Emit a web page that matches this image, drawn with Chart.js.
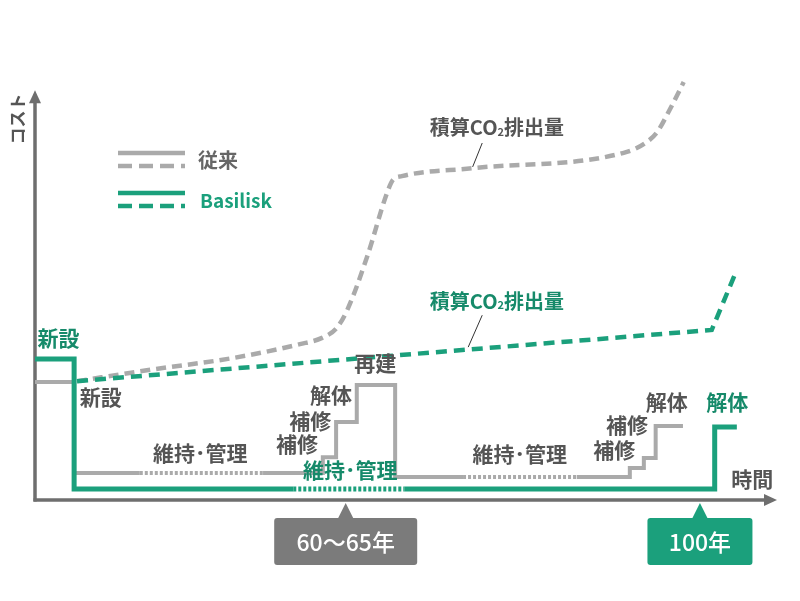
<!DOCTYPE html>
<html><head><meta charset="utf-8">
<script src="https://cdn.jsdelivr.net/npm/chart.js@4"></script>
<style>html,body{margin:0;padding:0;background:#fff}canvas{display:block}</style>
</head><body><canvas id="c" width="800" height="601"></canvas>
<script>
// ---- data (abstract time 0-100, abstract cost 0-100) ----
const seriesNames = ['従来', 'Basilisk'];
const axisLabels = { x: '時間', y: 'コスト' };

// conventional building: cost (solid)
const convCostX = [0, 5.3, 5.3, 14.2, 30.9, 39.0, 39.0, 40.8, 40.8, 43.6, 43.6, 48.8, 48.8, 58.0, 73.4, 80.6, 80.6, 82.5, 82.5, 84.1, 84.1, 87.8];
const convCostY = [28.1, 28.1, 6.4, 6.4, 6.4, 6.4, 10.2, 10.2, 18.6, 18.6, 27.4, 27.4, 5.5, 5.5, 5.5, 5.5, 7.6, 7.6, 10.0, 10.0, 17.6, 17.6];
const convDotted = [[14.2, 30.9], [58.0, 73.4]];
// Basilisk: cost (solid)
const basCostX = [0, 5.3, 5.3, 35.0, 50.1, 92.1, 92.1, 95.1];
const basCostY = [33.6, 33.6, 2.6, 2.6, 2.6, 2.6, 17.4, 17.4];
const basDotted = [[35.0, 50.1]];
// cumulative CO2 (dashed)
const convCO2X = [5.7, 15.6, 26.8, 35.9, 38.9, 40.9, 42.3, 45.0, 47.7, 48.5, 49.7, 59.3, 80.2, 82.7, 84.3, 86.0, 87.9];
const convCO2Y = [28.3, 31.0, 33.8, 37.1, 38.6, 41.0, 45.2, 57.9, 73.1, 76.2, 77.1, 79.0, 82.9, 85.0, 87.6, 92.9, 99.5];
const basCO2X = [5.7, 91.7, 95.1];
const basCO2Y = [28.3, 40.5, 54.8];

// stage labels: text, x, y, series (0 = 従来, 1 = Basilisk)
const stageText = ['新設', '新設', '維持･管理', '補修', '補修', '解体', '再建', '維持･管理', '維持･管理', '補修', '補修', '解体', '解体'];
const stageX    = [3.2, 8.9, 22.4, 35.5, 37.3, 40.1, 46.1, 42.7, 65.7, 78.5, 80.2, 85.6, 93.8];
const stageY    = [38.6, 24.5, 11.2, 13.3, 18.8, 25.0, 32.6, 7.1, 11.0, 11.9, 17.9, 23.3, 23.3];
const stageSer  = [1, 0, 0, 0, 0, 0, 0, 1, 0, 0, 0, 0, 1];

// CO2 labels with leader lines
const co2Label = ['積算CO', '2', '排出量'];
const co2LabelX = [62.6, 62.6];
const co2LabelY = [88.6, 47.4];
const leaderFrom = [[60.6, 85.0], [60.6, 44.0]];
const leaderTo   = [[59.3, 79.3], [58.7, 36.4]];

// milestones on time axis
const milestoneText = ['60〜65年', '100年'];
const milestoneX = [42.1, 90.1];

// ---- styles ----
const GREEN = '#1ba07c', GREEN_TXT = '#168a6a', GRAY = '#aaaaaa', GRAY_TXT = '#555555', AXIS = '#6e6e6e';
const FONT = '"Noto Sans CJK JP", "Noto Sans", sans-serif';
const BOX_W = [143, 105];

const zip = (xs, ys) => xs.map((v, i) => ({ x: v, y: ys[i] }));
const inRanges = (ranges) => (ctx) => {
  const a = ctx.p0.parsed.x, b = ctx.p1.parsed.x;
  return ranges.some(r => a >= r[0] - 1e-6 && b <= r[1] + 1e-6 && b > a) ? [3, 2] : undefined;
};

const deco = {
  id: 'deco',
  beforeDatasetsDraw(chart) {
    const { ctx, scales: { x, y } } = chart;
    const x0 = x.getPixelForValue(0), y0 = y.getPixelForValue(0);
    const xEnd = x.getPixelForValue(100) + 2, yTop = y.getPixelForValue(97.1);
    ctx.save();
    ctx.strokeStyle = AXIS; ctx.fillStyle = AXIS; ctx.lineWidth = 3.5;
    ctx.beginPath(); ctx.moveTo(x0, y0 + 1.5); ctx.lineTo(x0, yTop + 8); ctx.stroke();
    ctx.beginPath(); ctx.moveTo(x0 - 1.5, y0); ctx.lineTo(xEnd - 8, y0); ctx.stroke();
    ctx.beginPath(); ctx.moveTo(x0, yTop - 2); ctx.lineTo(x0 - 6, yTop + 11); ctx.lineTo(x0 + 6, yTop + 11); ctx.closePath(); ctx.fill();
    ctx.beginPath(); ctx.moveTo(xEnd + 2, y0); ctx.lineTo(xEnd - 11, y0 - 6); ctx.lineTo(xEnd - 11, y0 + 6); ctx.closePath(); ctx.fill();
    ctx.restore();
  },
  afterDatasetsDraw(chart) {
    const { ctx, scales: { x, y } } = chart;
    ctx.save();
    ctx.textBaseline = 'middle'; ctx.textAlign = 'center';
    // stage labels
    ctx.font = '700 21px ' + FONT;
    stageText.forEach((t, i) => {
      ctx.fillStyle = stageSer[i] ? GREEN_TXT : GRAY_TXT;
      ctx.fillText(t, x.getPixelForValue(stageX[i]), y.getPixelForValue(stageY[i]));
    });
    // axis labels
    ctx.fillStyle = GRAY_TXT;
    ctx.fillText(axisLabels.x, x.getPixelForValue(97.2), y.getPixelForValue(5.0));
    ctx.save();
    ctx.translate(18, y.getPixelForValue(90.7));
    ctx.rotate(-Math.PI / 2);
    ctx.font = '700 17px ' + FONT;
    ctx.fillText(axisLabels.y, 0, 0);
    ctx.restore();
    // CO2 labels
    [GRAY_TXT, GREEN_TXT].forEach((col, i) => {
      const cx = x.getPixelForValue(co2LabelX[i]), cy = y.getPixelForValue(co2LabelY[i]);
      ctx.font = '700 20px ' + FONT; const w1 = ctx.measureText(co2Label[0]).width, w3 = ctx.measureText(co2Label[2]).width;
      ctx.font = '700 11px ' + FONT; const w2 = ctx.measureText(co2Label[1]).width;
      let sx = cx - (w1 + w2 + w3) / 2;
      ctx.fillStyle = col; ctx.textAlign = 'left';
      ctx.font = '700 20px ' + FONT; ctx.fillText(co2Label[0], sx, cy);
      ctx.font = '700 11px ' + FONT; ctx.fillText(co2Label[1], sx + w1, cy + 4);
      ctx.font = '700 20px ' + FONT; ctx.fillText(co2Label[2], sx + w1 + w2, cy);
      ctx.textAlign = 'center';
      ctx.strokeStyle = '#333'; ctx.lineWidth = 1;
      ctx.beginPath();
      ctx.moveTo(x.getPixelForValue(leaderFrom[i][0]), y.getPixelForValue(leaderFrom[i][1]));
      ctx.lineTo(x.getPixelForValue(leaderTo[i][0]), y.getPixelForValue(leaderTo[i][1]));
      ctx.stroke();
    });
    // legend
    const lx = 118, lw = 67;
    [[GRAY, 153, 166, seriesNames[0], '#666666', 198], [GREEN, 193, 206, seriesNames[1], GREEN, 200]].forEach(([c, ys, yd, t, tc, tx]) => {
      ctx.strokeStyle = c; ctx.lineWidth = 4.5;
      ctx.beginPath(); ctx.moveTo(lx, ys); ctx.lineTo(lx + lw, ys); ctx.stroke();
      ctx.setLineDash([14, 7]);
      ctx.beginPath(); ctx.moveTo(lx, yd); ctx.lineTo(lx + lw, yd); ctx.stroke();
      ctx.setLineDash([]);
      ctx.fillStyle = tc; ctx.textAlign = 'left';
      ctx.font = (t === 'Basilisk' ? '600 19px ' : '700 20px ') + FONT;
      ctx.fillText(t, tx, (ys + yd) / 2 + 1);
    });
    // milestones
    ctx.textAlign = 'center';
    milestoneText.forEach((t, i) => {
      const px = x.getPixelForValue(milestoneX[i]), py = y.getPixelForValue(0);
      ctx.font = '500 23px ' + FONT;
      const w = BOX_W[i], top = py + 18, h = 47;
      ctx.fillStyle = i ? GREEN : '#7b7b7b';
      ctx.beginPath();
      ctx.roundRect(px - w / 2, top, w, h, 3);
      ctx.fill();
      ctx.beginPath(); ctx.moveTo(px, py + 3); ctx.lineTo(px - 8, top + 1); ctx.lineTo(px + 8, top + 1); ctx.closePath(); ctx.fill();
      ctx.fillStyle = '#ffffff';
      ctx.fillText(t, px, top + h / 2 + 1);
    });
    ctx.restore();
  }
};

new Chart(document.getElementById('c'), {
  type: 'line',
  data: {
    datasets: [
      { label: 'Basilisk コスト', data: zip(basCostX, basCostY), borderColor: GREEN, borderWidth: 5, pointRadius: 0, tension: 0,
        segment: { borderDash: inRanges(basDotted) } },
      { label: 'Basilisk 積算CO2排出量', data: zip(basCO2X, basCO2Y), borderColor: GREEN, borderWidth: 4.5, borderDash: [11, 7], pointRadius: 0, tension: 0 },
      { label: '従来 コスト', data: zip(convCostX, convCostY), borderColor: GRAY, borderWidth: 4, pointRadius: 0, tension: 0,
        segment: { borderDash: inRanges(convDotted) } },
      { label: '従来 積算CO2排出量', data: zip(convCO2X, convCO2Y), borderColor: GRAY, borderWidth: 4.5, borderDash: [10, 6], pointRadius: 0, cubicInterpolationMode: 'monotone' }
    ]
  },
  options: {
    responsive: false, animation: false, clip: false,
    layout: { padding: { left: 35, right: 27, top: 80, bottom: 101 } },
    scales: {
      x: { type: 'linear', min: 0, max: 100, display: false },
      y: { type: 'linear', min: 0, max: 100, display: false }
    },
    plugins: { legend: { display: false }, tooltip: { enabled: false } }
  },
  plugins: [deco]
});
</script>
</body></html>
